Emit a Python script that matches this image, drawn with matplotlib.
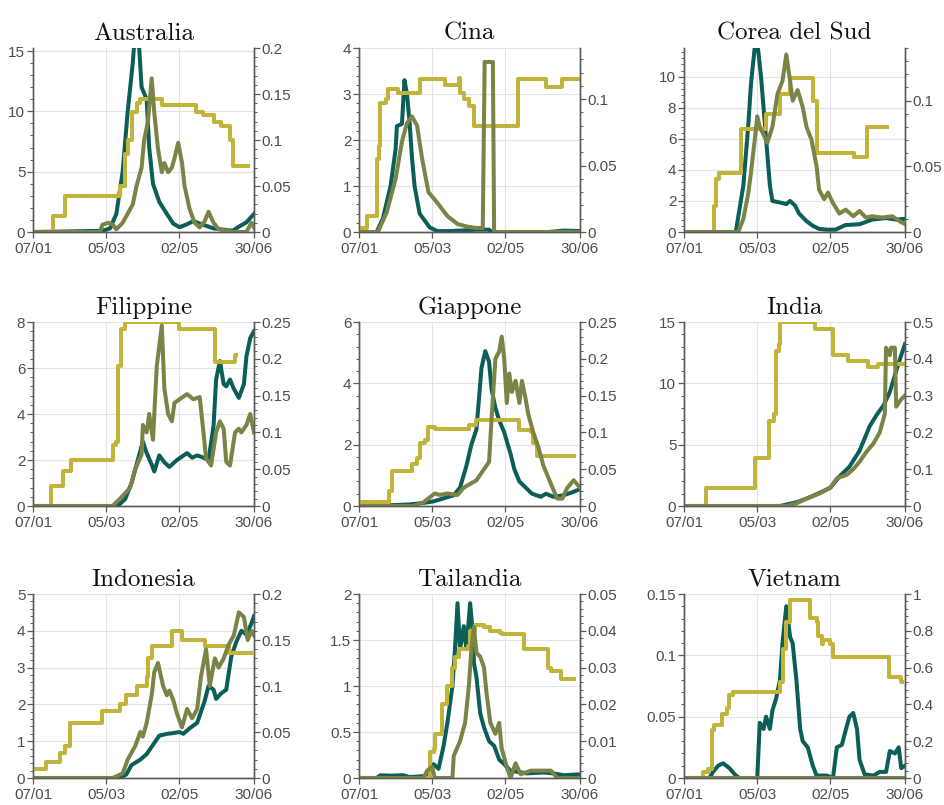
import datetime as dt

import matplotlib

matplotlib.use("Agg")
import matplotlib.dates as mdates
import matplotlib.pyplot as plt
import numpy as np
from matplotlib.ticker import AutoMinorLocator, FuncFormatter, MultipleLocator

TEAL = "#0c5f58"
OLIVE = "#7a8446"
YELLOW = "#c2b33a"
AX_GRAY = "#5a5a5a"
GRID = "#e3e3e3"

T0 = mdates.date2num(dt.datetime(2020, 1, 7))
XTICK_DAYS = [0, 58, 116, 175]

# (day from 07/01, value) -- cases on left axis, deaths and stringency on right axis
AUS_CASES = [(0, 0), (30, 0.05), (55, 0.1), (61, 0.3), (66, 1.5), (71, 5), (75, 10), (79, 14), (80, 15.4),
             (84, 15.4), (86, 12), (90, 11), (92, 7), (95, 4), (100, 2.5), (106, 1.5), (111, 0.7), (116, 0.4),
             (121, 0.6), (127, 0.9), (132, 0.7), (143, 0.3), (158, 0.1), (164, 0.5), (169, 0.8), (175, 1.5)]
AUS_DEATHS = [(0, 0), (53, 0), (55, 0.008), (60, 0.01), (63, 0.008), (66, 0.003), (71, 0.01), (75, 0.02),
              (79, 0.03), (82, 0.05), (86, 0.07), (88, 0.1), (91, 0.12), (94, 0.167), (96, 0.13), (99, 0.09),
              (102, 0.065), (104, 0.075), (107, 0.065), (110, 0.07), (112, 0.08), (115, 0.097), (118, 0.075),
              (120, 0.05), (124, 0.025), (128, 0.01), (132, 0.005), (136, 0.012), (139, 0.022), (143, 0.01),
              (147, 0.003), (158, 0), (169, 0), (173, 0.01), (175, 0.005)]
AUS_STRING = [(0, 0), (16, 0.017), (25, 0.039), (69, 0.05), (73, 0.085), (75, 0.1), (78, 0.13), (82, 0.14),
              (85, 0.145), (102, 0.138), (129, 0.13), (135, 0.127), (143, 0.12), (149, 0.115), (156, 0.1),
              (158, 0.072), (170, 0.072)]

CHN_CASES = [(0, 0), (14, 0), (19, 0.3), (25, 1.0), (29, 1.8), (30, 2.3), (34, 2.35), (36, 3.3), (38, 3.0),
             (40, 2.4), (42, 1.6), (44, 1.0), (48, 0.4), (52, 0.25), (56, 0.1), (62, 0.02), (72, 0.02),
             (93, 0.05), (103, 0.05), (105, 0), (150, 0), (162, 0.03), (175, 0.02)]
CHN_DEATHS = [(0, 0), (15, 0), (22, 0.015), (29, 0.04), (34, 0.068), (38, 0.082), (42, 0.087), (46, 0.08),
              (50, 0.055), (55, 0.03), (62, 0.022), (70, 0.012), (78, 0.006), (86, 0.004), (93, 0.003),
              (98, 0.003), (99.5, 0.128), (106, 0.128), (107, 0), (175, 0)]
CHN_STRING = [(0, 0.003), (6, 0.012), (14, 0.055), (15.5, 0.065), (17, 0.097), (21, 0.1), (23, 0.108),
              (31, 0.105), (48, 0.115), (68, 0.111), (79, 0.116), (80, 0.105), (83, 0.1), (87, 0.095),
              (91, 0.08), (126, 0.115), (148, 0.109), (161, 0.115), (175, 0.115)]

KOR_CASES = [(0, 0), (41, 0), (47, 3), (51, 7), (53, 9.5), (56, 11.9), (58.5, 11.9), (61, 10), (65, 6),
             (68, 3), (70, 2), (76, 1.9), (81, 1.8), (84, 2.0), (88, 1.7), (91, 1.2), (97, 0.7), (102, 0.4),
             (107, 0.2), (113, 0.15), (120, 0.15), (128, 0.45), (139, 0.5), (144, 0.65), (149, 0.8),
             (160, 0.9), (168, 0.8), (175, 0.85)]
KOR_DEATHS = [(0, 0), (43, 0), (47, 0.01), (51, 0.03), (53, 0.045), (56, 0.07), (58, 0.088), (60, 0.08),
              (64, 0.072), (66, 0.068), (70, 0.08), (74, 0.105), (78, 0.115), (81, 0.135), (84, 0.115),
              (86, 0.1), (90, 0.108), (94, 0.095), (97, 0.08), (101, 0.07), (105, 0.05), (107, 0.032),
              (111, 0.025), (114, 0.03), (118, 0.022), (123, 0.014), (128, 0.017), (134, 0.012),
              (139, 0.016), (144, 0.011), (149, 0.012), (157, 0.011), (165, 0.012), (171, 0.008),
              (175, 0.006)]
KOR_STRING = [(0, 0), (23, 0), (23.5, 0.02), (25.6, 0.04), (28, 0.045), (45, 0.078), (65, 0.09),
              (76, 0.105), (84, 0.117), (102, 0.1), (105, 0.06), (135, 0.057), (145, 0.08), (161, 0.08)]

PHL_CASES = [(0, 0), (67, 0), (73, 0.3), (78, 1), (83, 2), (87, 2.8), (90, 2.3), (94, 1.8), (96, 1.5),
             (100, 2.2), (104, 1.9), (108, 1.7), (114, 2.0), (122, 2.3), (126, 2.1), (130, 2.2), (135, 2.1),
             (139, 2.0), (143, 3.5), (145, 5.5), (148, 6.3), (151, 5.3), (153, 5.2), (156, 5.5), (159, 5.1),
             (163, 4.7), (167, 5.3), (169, 6.5), (172, 7.3), (175, 7.6)]
PHL_DEATHS = [(0, 0), (63, 0), (69, 0.01), (77, 0.025), (81, 0.05), (86, 0.07), (87, 0.11), (90, 0.1),
              (92, 0.125), (95, 0.09), (98, 0.19), (102, 0.245), (104, 0.16), (107, 0.125), (110, 0.115),
              (112, 0.14), (116, 0.145), (122, 0.152), (127, 0.145), (132, 0.148), (135, 0.1), (137, 0.065),
              (141, 0.055), (145, 0.1), (148, 0.115), (151, 0.105), (153, 0.06), (156, 0.055), (160, 0.1),
              (163, 0.105), (165, 0.1), (169, 0.11), (172, 0.125), (175, 0.1)]
PHL_STRING = [(0, 0), (14.5, 0.027), (24, 0.048), (30, 0.062), (63, 0.083), (66, 0.087), (67, 0.19),
              (70, 0.24), (73, 0.25), (116, 0.24), (144, 0.195), (160, 0.205), (161, 0.205)]

JPN_CASES = [(0, 0), (14, 0), (27, 0.03), (40, 0.05), (51, 0.1), (59, 0.15), (67, 0.25), (75, 0.35),
             (80, 0.6), (85, 1.3), (89, 2.0), (93, 2.5), (95, 3.5), (97, 4.5), (100, 5.05), (103, 4.7),
             (105, 3.8), (108, 3.2), (111, 2.8), (115, 2.4), (120, 1.7), (123, 1.2), (127, 0.8), (132, 0.6),
             (137, 0.4), (144, 0.3), (148, 0.4), (154, 0.3), (162, 0.35), (169, 0.45), (175, 0.55)]
JPN_DEATHS = [(0, 0), (43, 0), (51, 0.005), (60, 0.017), (64, 0.015), (70, 0.017), (78, 0.015),
              (83, 0.025), (88, 0.03), (93, 0.035), (99, 0.05), (103, 0.06), (105, 0.12), (108, 0.2),
              (111, 0.21), (113, 0.23), (115, 0.2), (117, 0.14), (119, 0.18), (121, 0.155), (124, 0.17),
              (127, 0.14), (129, 0.17), (132, 0.145), (134, 0.125), (138, 0.1), (142, 0.08), (146, 0.055),
              (152, 0.03), (157, 0.01), (161, 0.01), (165, 0.025), (170, 0.035), (175, 0.025)]
JPN_STRING = [(0, 0.005), (24, 0.02), (26, 0.047), (42, 0.057), (46, 0.065), (48, 0.085), (52, 0.09),
              (55, 0.108), (60, 0.104), (87, 0.11), (93, 0.117), (127, 0.103), (136, 0.1), (138, 0.085),
              (141, 0.068), (170, 0.068)]

IND_CASES = [(0, 0), (76, 0), (89, 0.3), (97, 0.6), (108, 1.1), (116, 1.5), (123, 2.4), (131, 3.2),
             (139, 4.5), (147, 6.5), (153, 7.5), (158, 8.2), (163, 9.3), (168, 11), (172, 12.3), (175, 13.2)]
IND_DEATHS = [(0, 0), (81, 0), (89, 0.007), (97, 0.02), (108, 0.035), (116, 0.05), (121, 0.075),
              (125, 0.08), (129, 0.085), (134, 0.1), (139, 0.12), (144, 0.145), (150, 0.17), (155, 0.2),
              (159, 0.25), (160, 0.43), (163, 0.41), (164, 0.43), (167, 0.43), (168, 0.27), (170, 0.28),
              (172, 0.29), (175, 0.3)]
IND_STRING = [(0, 0), (17.7, 0.048), (56, 0.13), (67, 0.23), (71, 0.25), (73, 0.42), (75, 0.44), (76, 0.5),
              (104, 0.48), (118, 0.41), (130, 0.395), (146, 0.377), (154, 0.385), (174, 0.385)]

IDN_CASES = [(0, 0), (69, 0), (74, 0.1), (78, 0.35), (85, 0.5), (90, 0.65), (95, 0.9), (100, 1.15),
             (106, 1.2), (111, 1.22), (116, 1.25), (119, 1.2), (124, 1.35), (130, 1.5), (132, 1.7),
             (136, 2.1), (139, 2.5), (143, 2.4), (145, 2.15), (149, 2.3), (153, 2.4), (157, 3.3), (161, 3.7),
             (165, 4.0), (169, 3.9), (173, 4.2), (175, 4.4)]
IDN_DEATHS = [(0, 0), (63, 0), (71, 0.005), (75, 0.02), (81, 0.035), (85, 0.05), (87, 0.045), (90, 0.06),
              (94, 0.09), (96, 0.115), (99, 0.125), (103, 0.1), (106, 0.09), (108, 0.095), (111, 0.085),
              (114, 0.07), (118, 0.055), (122, 0.075), (126, 0.065), (130, 0.075), (133, 0.11), (137, 0.14),
              (140, 0.1), (144, 0.13), (147, 0.12), (151, 0.13), (155, 0.145), (159, 0.155), (163, 0.18),
              (167, 0.175), (170, 0.15), (173, 0.16), (175, 0.155)]
IDN_STRING = [(0, 0.01), (10.5, 0.017), (21, 0.027), (25, 0.035), (29, 0.06), (55, 0.073), (69, 0.08),
              (74, 0.09), (82, 0.1), (90, 0.11), (91, 0.13), (94, 0.144), (110, 0.16), (118, 0.15),
              (136, 0.144), (155, 0.136), (173, 0.136)]

THA_CASES = [(0, 0), (14, 0), (17, 0.03), (25, 0.025), (35, 0.03), (40, 0.01), (51, 0.02), (56, 0.05),
             (59, 0.15), (63, 0.1), (67, 0.35), (70, 0.6), (74, 1.0), (76, 1.4), (78, 1.9), (80, 1.4),
             (83, 1.65), (85, 1.4), (88, 1.9), (90, 1.6), (91, 1.25), (93, 1.1), (96, 0.7), (99, 0.55),
             (103, 0.4), (107, 0.35), (111, 0.2), (115, 0.15), (120, 0.08), (133, 0.05), (146, 0.06),
             (154, 0.05), (162, 0.03), (175, 0.04)]
THA_DEATHS = [(0, 0), (51, 0), (54, 0.002), (58, 0.003), (60, 0), (74, 0), (75, 0.006), (80, 0.01),
              (84, 0.015), (87, 0.025), (89, 0.035), (91, 0.041), (93, 0.034), (96, 0.033), (99, 0.03),
              (101, 0.023), (104, 0.015), (108, 0.012), (111, 0.015), (113, 0.008), (117, 0.003), (120, 0),
              (124, 0.004), (128, 0.001), (136, 0.002), (144, 0.002), (152, 0.002), (157, 0), (175, 0)]
THA_STRING = [(0, 0), (56, 0.007), (59, 0.008), (60, 0.012), (66, 0.02), (70, 0.025), (74, 0.03),
              (76, 0.033), (79, 0.035), (86, 0.036), (88, 0.04), (92, 0.0415), (99, 0.041), (104, 0.04),
              (112, 0.0395), (113, 0.039), (131, 0.035), (150, 0.03), (152, 0.029), (160, 0.027),
              (170, 0.027)]

VNM_CASES = [(0, 0), (20, 0), (23, 0.005), (27, 0.01), (31, 0.012), (36, 0.008), (41, 0.002), (44, 0),
             (58, 0), (60, 0.045), (63, 0.04), (65, 0.05), (68, 0.04), (70, 0.055), (73, 0.065), (76, 0.08),
             (78, 0.11), (81, 0.14), (84, 0.115), (86, 0.11), (89, 0.08), (92, 0.04), (94, 0.03),
             (98, 0.025), (102, 0.01), (105, 0.002), (113, 0.002), (118, 0), (121, 0.025), (125, 0.027),
             (127, 0.035), (131, 0.05), (134, 0.053), (137, 0.04), (139, 0.015), (143, 0.003), (150, 0.002),
             (155, 0.005), (160, 0.005), (163, 0.022), (167, 0.02), (170, 0.025), (172, 0.008), (175, 0.01)]
VNM_DEATHS = [(0, 0), (175, 0)]
VNM_STRING = [(0, 0), (14, 0), (15, 0.03), (19, 0.05), (22, 0.26), (24, 0.29), (30, 0.35), (34, 0.38),
              (36, 0.45), (39, 0.47), (76, 0.52), (78, 0.7), (81, 0.85), (84, 0.97), (100, 0.87),
              (105, 0.85), (106, 0.77), (109, 0.73), (110, 0.75), (116, 0.73), (118, 0.66), (162, 0.55),
              (172, 0.52), (173, 0.52)]

COUNTRIES = ["Australia", "Cina", "Corea del Sud", "Filippine", "Giappone", "India",
             "Indonesia", "Tailandia", "Vietnam"]
CASES = [AUS_CASES, CHN_CASES, KOR_CASES, PHL_CASES, JPN_CASES, IND_CASES, IDN_CASES, THA_CASES, VNM_CASES]
DEATHS = [AUS_DEATHS, CHN_DEATHS, KOR_DEATHS, PHL_DEATHS, JPN_DEATHS, IND_DEATHS, IDN_DEATHS, THA_DEATHS,
          VNM_DEATHS]
STRING = [AUS_STRING, CHN_STRING, KOR_STRING, PHL_STRING, JPN_STRING, IND_STRING, IDN_STRING, THA_STRING,
          VNM_STRING]
LEFT_MAX = [15.25, 4, 11.86, 8, 6, 15, 5, 2, 0.15]
LEFT_STEP = [5, 1, 2, 2, 2, 5, 1, 0.5, 0.05]
RIGHT_MAX = [0.2, 0.1385, 0.14, 0.25, 0.25, 0.5, 0.2, 0.05, 1]
RIGHT_STEP = [0.05, 0.05, 0.05, 0.05, 0.05, 0.1, 0.05, 0.01, 0.2]

COL_LEFT = [33, 359, 684]
ROW_TOP = [48, 322, 594]
AX_W, AX_H = 221, 184
FIG_W, FIG_H = 944, 805
LW = 2.9


def fmt_g(v, _pos):
    return f"{v:.10g}"


def style_axis(ax):
    ax.tick_params(which="both", direction="out", colors=AX_GRAY, labelsize=11, labelcolor="#4d4d4d")
    ax.tick_params(which="major", length=4, width=0.9)
    ax.tick_params(which="minor", length=2, width=0.7)
    for s in ax.spines.values():
        s.set_color(AX_GRAY)
        s.set_linewidth(1.0)
    ax.spines["top"].set_visible(False)


def xy(points):
    arr = np.array(points, dtype=float)
    return T0 + arr[:, 0], arr[:, 1]


def render():
    plt.rcParams["font.family"] = ["Liberation Sans", "DejaVu Sans"]
    fig = plt.figure(figsize=(FIG_W / 100, FIG_H / 100), dpi=100)

    for i, name in enumerate(COUNTRIES):
        r, c = divmod(i, 3)
        rect = [COL_LEFT[c] / FIG_W, 1 - (ROW_TOP[r] + AX_H) / FIG_H, AX_W / FIG_W, AX_H / FIG_H]
        ax = fig.add_axes(rect)
        ax2 = ax.twinx()

        x, y = xy(CASES[i])
        ax.plot(x, y, color=TEAL, lw=LW, solid_joinstyle="round")
        x, y = xy(STRING[i])
        ax2.plot(x, y, color=YELLOW, lw=LW, drawstyle="steps-post")
        x, y = xy(DEATHS[i])
        ax2.plot(x, y, color=OLIVE, lw=LW, solid_joinstyle="round")

        ax.set_xlim(T0, T0 + 175)
        ax.set_xticks([T0 + d for d in XTICK_DAYS])
        ax.xaxis.set_major_formatter(mdates.DateFormatter("%d/%m"))
        ax.set_ylim(0, LEFT_MAX[i])
        ax.yaxis.set_major_locator(MultipleLocator(LEFT_STEP[i]))
        ax.yaxis.set_minor_locator(AutoMinorLocator(5))
        ax.yaxis.set_major_formatter(FuncFormatter(fmt_g))
        ax2.set_ylim(0, RIGHT_MAX[i])
        ax2.yaxis.set_major_locator(MultipleLocator(RIGHT_STEP[i]))
        ax2.yaxis.set_minor_locator(AutoMinorLocator(5))
        ax2.yaxis.set_major_formatter(FuncFormatter(fmt_g))

        ax.grid(True, which="major", color=GRID, linewidth=0.8)
        ax.set_axisbelow(True)
        style_axis(ax)
        style_axis(ax2)
        ax.tick_params(axis="x", pad=3)
        ax.tick_params(axis="y", pad=1.5)
        ax2.tick_params(axis="y", pad=1.5)

        ax.set_title(name, fontsize=18, family="cmr10", pad=6, color="#111111")

    fig.savefig("out.png", dpi=100, facecolor="white")
    plt.close(fig)


if __name__ == "__main__":
    render()
